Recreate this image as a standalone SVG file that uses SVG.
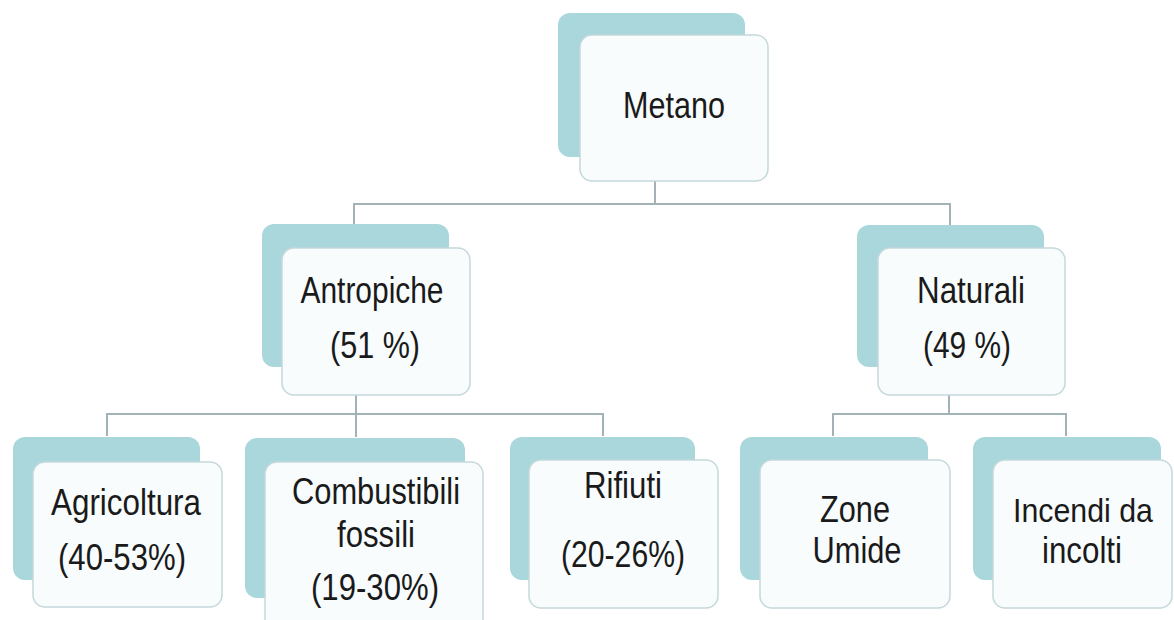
<svg xmlns="http://www.w3.org/2000/svg" width="1174" height="620" viewBox="0 0 1174 620">
<style>
.back{fill:#a9d7dc;}
.front{fill:#f8fcfd;stroke:#c5d8db;stroke-width:1.5;}
.lbl{font-family:"Liberation Sans",Arial,sans-serif;font-size:36px;fill:#1a1a1a;text-anchor:middle;}
.conn{fill:none;stroke:#a3b2b6;stroke-width:2;}
</style>
<rect width="1174" height="620" fill="#ffffff"/>
<g id="connectors">
<path class="conn" d="M655,181 V204 M354,225 V204 H950 V225"/>
<path class="conn" d="M356,395 V414 M107,436 V414 H603 V436 M356,414 V437"/>
<path class="conn" d="M949,395 V414 M833,436 V414 H1066 V436"/>
</g>
<g id="metano">
<rect class="back" x="558" y="13" width="187" height="144" rx="12"/>
<rect class="front" x="580" y="35" width="188" height="146" rx="12"/>
<text class="lbl" x="674" y="118" textLength="102" lengthAdjust="spacingAndGlyphs">Metano</text>
</g>
<g id="antropiche">
<rect class="back" x="262" y="224" width="187" height="143" rx="12"/>
<rect class="front" x="282" y="248" width="188" height="147" rx="12"/>
<text class="lbl" x="372" y="303" textLength="143" lengthAdjust="spacingAndGlyphs">Antropiche</text>
<text class="lbl" x="375" y="358" textLength="90" lengthAdjust="spacingAndGlyphs">(51 %)</text>
</g>
<g id="naturali">
<rect class="back" x="857" y="225" width="187" height="142" rx="12"/>
<rect class="front" x="878" y="248" width="187" height="147" rx="12"/>
<text class="lbl" x="971" y="303" textLength="108" lengthAdjust="spacingAndGlyphs">Naturali</text>
<text class="lbl" x="967" y="358" textLength="88" lengthAdjust="spacingAndGlyphs">(49 %)</text>
</g>
<g id="agricoltura">
<rect class="back" x="13" y="437" width="187" height="143" rx="12"/>
<rect class="front" x="33" y="462" width="189" height="145" rx="12"/>
<text class="lbl" x="126" y="515" textLength="150" lengthAdjust="spacingAndGlyphs">Agricoltura</text>
<text class="lbl" x="122" y="570" textLength="128" lengthAdjust="spacingAndGlyphs">(40-53%)</text>
</g>
<g id="combustibili">
<rect class="back" x="245" y="438" width="220" height="160" rx="12"/>
<rect class="front" x="265" y="462" width="218" height="170" rx="12"/>
<text class="lbl" x="376" y="504" textLength="168" lengthAdjust="spacingAndGlyphs">Combustibili</text>
<text class="lbl" x="376" y="547" textLength="78" lengthAdjust="spacingAndGlyphs">fossili</text>
<text class="lbl" x="375" y="600" textLength="128" lengthAdjust="spacingAndGlyphs">(19-30%)</text>
</g>
<g id="rifiuti">
<rect class="back" x="510" y="437" width="185" height="143" rx="12"/>
<rect class="front" x="529" y="460" width="189" height="148" rx="12"/>
<text class="lbl" x="623" y="498" textLength="78" lengthAdjust="spacingAndGlyphs">Rifiuti</text>
<text class="lbl" x="623" y="567" textLength="124" lengthAdjust="spacingAndGlyphs">(20-26%)</text>
</g>
<g id="zone-umide">
<rect class="back" x="740" y="437" width="188" height="143" rx="12"/>
<rect class="front" x="760" y="460" width="190" height="148" rx="12"/>
<text class="lbl" x="855" y="522" textLength="70" lengthAdjust="spacingAndGlyphs">Zone</text>
<text class="lbl" x="857" y="563" textLength="89" lengthAdjust="spacingAndGlyphs">Umide</text>
</g>
<g id="incendi">
<rect class="back" x="973" y="437" width="188" height="143" rx="12"/>
<rect class="front" x="993" y="460" width="179" height="148" rx="12"/>
<text class="lbl" x="1083" y="522" style="font-size:33px" textLength="140" lengthAdjust="spacingAndGlyphs">Incendi da</text>
<text class="lbl" x="1082" y="563" textLength="80" lengthAdjust="spacingAndGlyphs">incolti</text>
</g>
</svg>
